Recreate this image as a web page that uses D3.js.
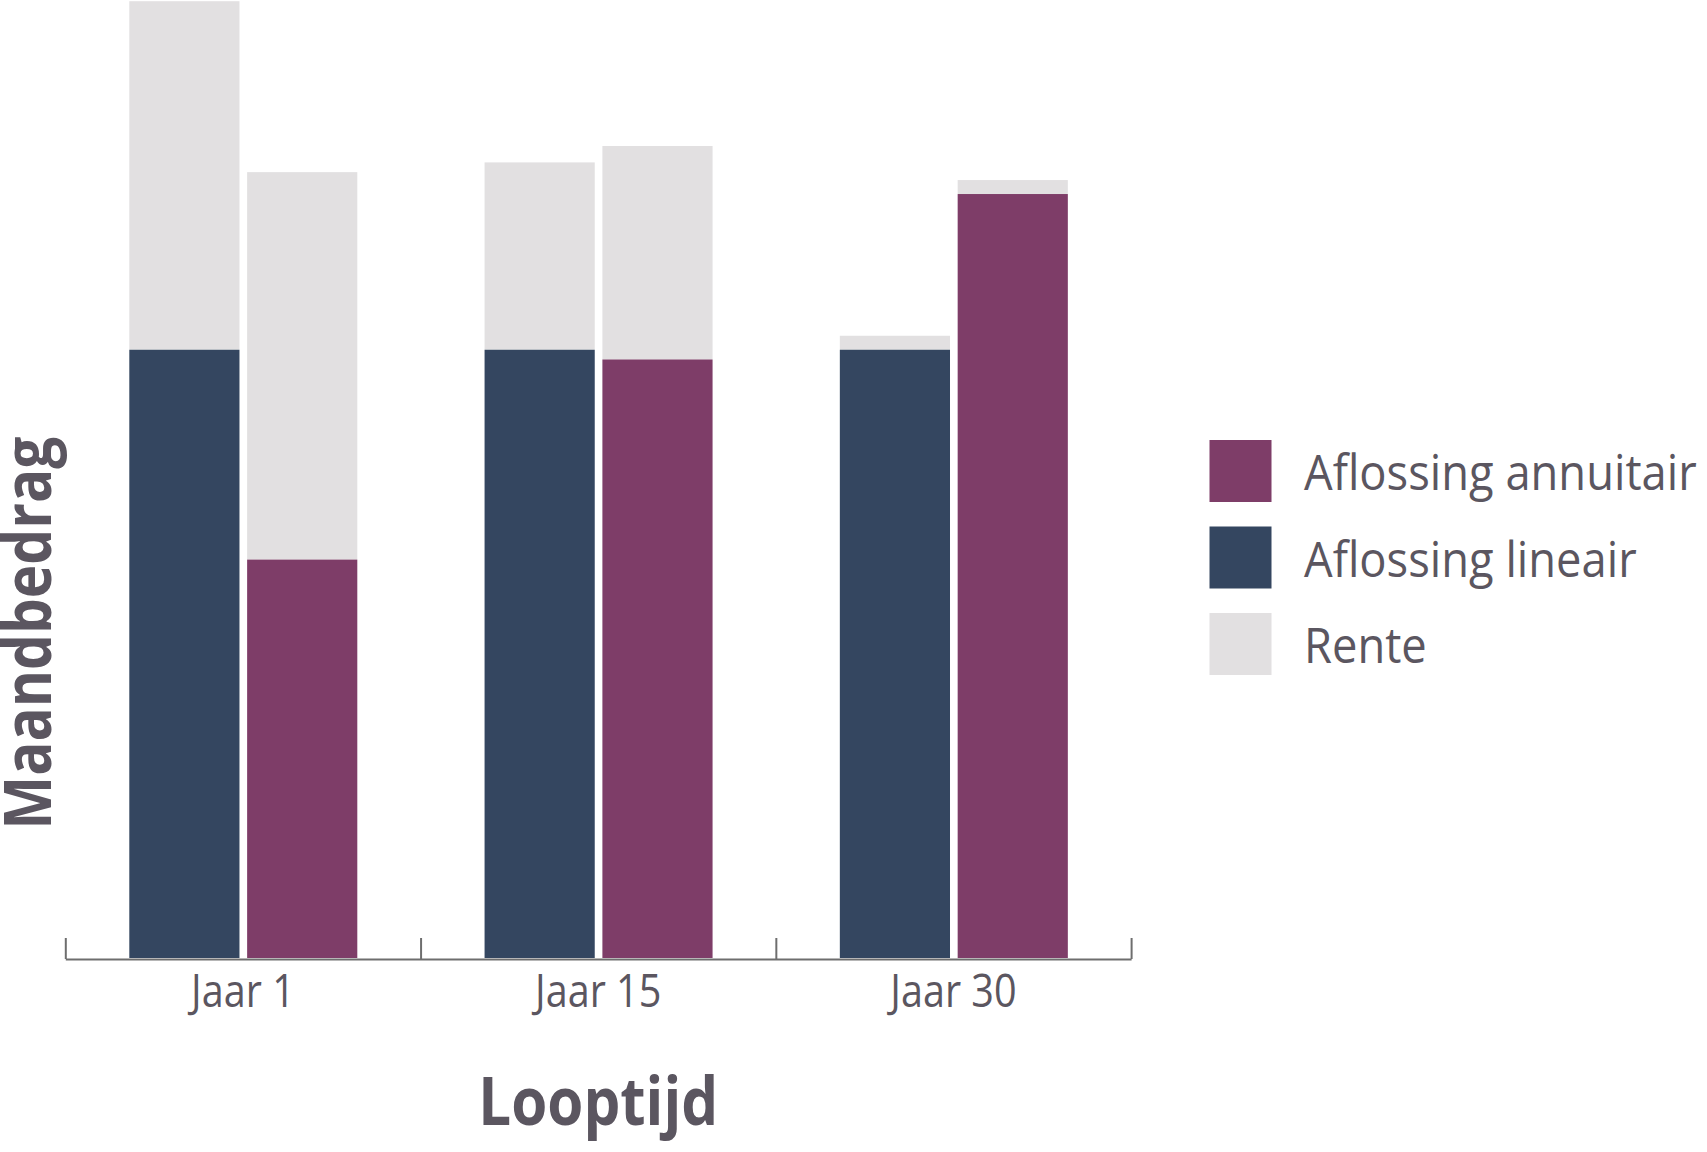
<!DOCTYPE html>
<html>
<head>
<meta charset="utf-8">
<script src="https://cdn.jsdelivr.net/npm/d3@7"></script>
<style>
  html, body { margin: 0; padding: 0; background: #ffffff; }
  svg { display: block; }
  text { font-family: "Open Sans", "Noto Sans", sans-serif; fill: #5b5660; }
</style>
</head>
<body>
<script>
// ---- data ----
const categories = ["Jaar 1", "Jaar 15", "Jaar 30"];
const types = ["lineair", "annuitair"];
const aflossingLineair   = [100, 100, 100];
const aflossingAnnuitair = [65.5, 98.4, 125.6];
const renteLineair       = [57.3, 30.8, 2.3];
const renteAnnuitair     = [63.7, 35.1, 2.3];
const legendLabels = ["Aflossing annuitair", "Aflossing lineair", "Rente"];
const xTitle = "Looptijd";
const yTitle = "Maandbedrag";

const colors = { lineair: "#344660", annuitair: "#7e3d68", rente: "#e2e0e1" };
const legendColors = [colors.annuitair, colors.lineair, colors.rente];

// ---- build rows ----
const rows = [];
categories.forEach((c, i) => {
  rows.push({ cat: c, type: "lineair", aflossing: aflossingLineair[i], rente: renteLineair[i] });
  rows.push({ cat: c, type: "annuitair", aflossing: aflossingAnnuitair[i], rente: renteAnnuitair[i] });
});

const W = 1707, H = 1152;
const svg = d3.select("body").append("svg").attr("width", W).attr("height", H);

const axisY = 958;
const x0 = d3.scaleBand().domain(categories).range([65.3, 1131.1]).padding(0);
const x1 = d3.scaleBand().domain(types).range([64, 292]).paddingInner(0.065).paddingOuter(0);
const y = d3.scaleLinear().domain([0, 157.5]).range([axisY, 0]);

// bars
const g = svg.append("g");
const bar = g.selectAll("g.bar").data(rows).join("g").attr("class", "bar");
bar.append("rect")
  .attr("x", d => x0(d.cat) + x1(d.type))
  .attr("width", x1.bandwidth())
  .attr("y", d => y(d.aflossing + d.rente))
  .attr("height", d => y(d.aflossing) - y(d.aflossing + d.rente))
  .attr("fill", colors.rente);
bar.append("rect")
  .attr("x", d => x0(d.cat) + x1(d.type))
  .attr("width", x1.bandwidth())
  .attr("y", d => y(d.aflossing))
  .attr("height", d => y(0) - y(d.aflossing))
  .attr("fill", d => colors[d.type]);

// axis line with boundary ticks (upward)
const xb = d3.scaleLinear().domain([0, categories.length]).range(x0.range());
const axisLine = svg.append("g").attr("transform", `translate(0,${axisY + 1})`)
  .call(d3.axisTop(xb).tickValues(d3.range(categories.length + 1)).tickSize(21).tickSizeOuter(0).tickFormat(""));
axisLine.selectAll("path, line").attr("stroke", "#6e6e6e").attr("stroke-width", 2);

// category labels (slightly condensed with a horizontal scale)
const labAxis = svg.append("g").attr("transform", `translate(0,${axisY})`)
  .call(d3.axisBottom(x0).tickSize(0));
labAxis.select(".domain").remove();
labAxis.selectAll("text")
  .attr("x", 0).attr("y", 0).attr("dy", 0)
  .attr("transform", "translate(0,48.7) scale(0.86,1)")
  .attr("font-size", 46)
  .style("font-family", '"Open Sans", sans-serif')
  .attr("fill", "#5b5660");

// axis titles
svg.append("text")
  .attr("transform", `translate(${(x0.range()[0] + x0.range()[1]) / 2},1125) scale(0.87,1)`)
  .attr("text-anchor", "middle")
  .attr("font-size", 67)
  .attr("font-weight", 700)
  .text(xTitle);

svg.append("text")
  .attr("transform", "translate(51,633) rotate(-90) scale(0.86,1)")
  .attr("text-anchor", "middle")
  .attr("font-size", 66)
  .attr("font-weight", 700)
  .text(yTitle);

// legend
const leg = svg.append("g").attr("transform", "translate(1209.5,440)");
const li = leg.selectAll("g").data(legendLabels).join("g")
  .attr("transform", (d, i) => `translate(0,${i * 86.5})`);
li.append("rect").attr("width", 62).attr("height", 62).attr("fill", (d, i) => legendColors[i]);
li.append("text")
  .attr("transform", "translate(94.5,50) scale(0.925,1)")
  .attr("font-size", 49)
  .text(d => d);
</script>
</body>
</html>
